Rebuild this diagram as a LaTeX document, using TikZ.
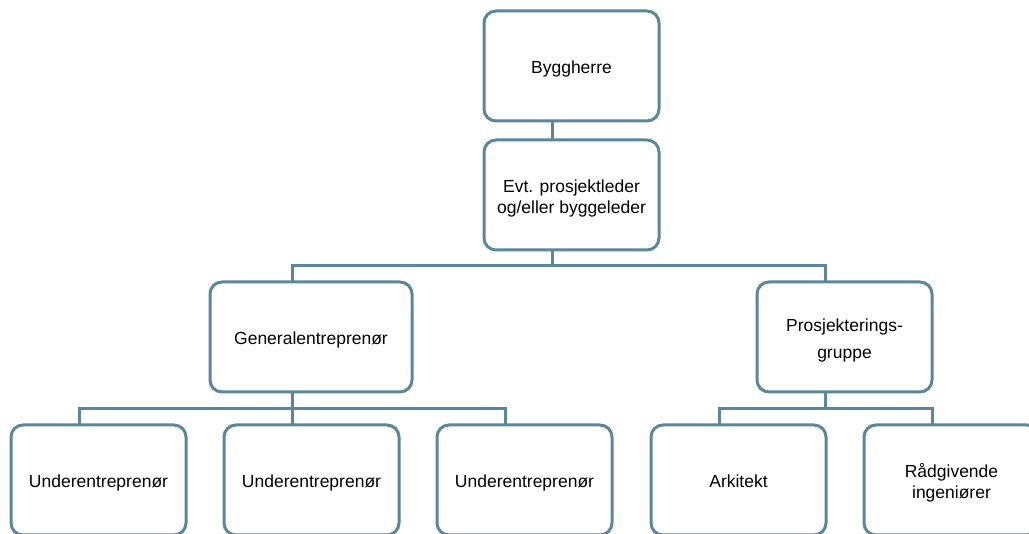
\documentclass[tikz,border=0pt]{standalone}
\usepackage{fontspec}
\setmainfont{Liberation Sans}
\definecolor{edge}{RGB}{92,135,155}
\begin{document}
\begin{tikzpicture}[x=1pt,y=-1pt,
  orgbox/.style={draw=edge, line width=3pt, rounded corners=12pt, fill=white,
    minimum width=175pt, minimum height=110pt, inner sep=2pt, outer sep=0pt,
    align=center, text height=20pt, text depth=4pt,
    font=\fontsize{17.5}{21}\selectfont},
  twoline/.style={text height=41pt},
  conn/.style={draw=edge, line width=3pt}]
\clip (0,0) rectangle (1029,534);
\fill[white] (0,0) rectangle (1029,534);

% boxes
\node[orgbox] (B1) at (571.5,66) {Byggherre};
\node[orgbox, twoline] (B2) at (571.5,195) {Evt. prosjektleder\\og/eller byggeleder};
\node[orgbox, minimum width=202pt] (G) at (311,337) {Generalentreprenør};
\node[orgbox, font=\fontsize{17.5}{27}\selectfont, text height=47pt] (P) at (844.5,337) {Prosjekterings-\\gruppe};
\node[orgbox] (U1) at (98.5,480) {Underentreprenør};
\node[orgbox] (U2) at (311.5,480) {Underentreprenør};
\node[orgbox] (U3) at (524.5,480) {Underentreprenør};
\node[orgbox] (A) at (738.5,480) {Arkitekt};
\node[orgbox, twoline] (R) at (951.5,480) {Rådgivende\\ingeniører};

% connector attachment points
\coordinate (bar1) at (0,266);
\coordinate (bar2) at (0,409);
\coordinate (b1s) at ([xshift=68pt]B1.south west);
\coordinate (b2n) at ([xshift=68pt]B2.north west);
\coordinate (b2s) at ([xshift=68pt]B2.south west);
\coordinate (gn) at ([xshift=82pt]G.north west);
\coordinate (gs) at ([xshift=82pt]G.south west);
\coordinate (pn) at ([xshift=68pt]P.north west);
\coordinate (ps) at ([xshift=68pt]P.south west);
\coordinate (u1n) at ([xshift=68pt]U1.north west);
\coordinate (u2n) at ([xshift=68pt]U2.north west);
\coordinate (u3n) at ([xshift=68pt]U3.north west);
\coordinate (an) at ([xshift=68pt]A.north west);
\coordinate (rn) at ([xshift=68pt]R.north west);

% connectors
\draw[conn] (b1s) -- (b2n);
\draw[conn] (b2s) -- (b2s |- bar1);
\draw[conn] (gn) |- (pn |- bar1) -- (pn);
\draw[conn] (gs) -- (gs |- bar2);
\draw[conn] (u1n) |- (u3n |- bar2) -- (u3n);
\draw[conn] (u2n) -- (u2n |- bar2);
\draw[conn] (ps) -- (ps |- bar2);
\draw[conn] (an) |- (rn |- bar2) -- (rn);
\end{tikzpicture}
\end{document}
